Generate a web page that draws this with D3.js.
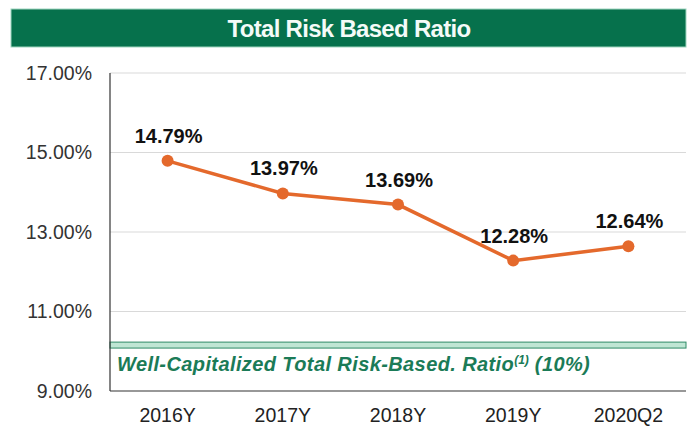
<!DOCTYPE html>
<html>
<head>
<meta charset="utf-8">
<script src="https://cdn.jsdelivr.net/npm/d3@7"></script>
<style>
body { margin: 0; background: #fff; }
svg { display: block; font-family: Arial, "Liberation Sans", sans-serif; }
</style>
</head>
<body>
<div id="chart"></div>
<script>
var categories = ['2016Y', '2017Y', '2018Y', '2019Y', '2020Q2']
var ratios = [14.79, 13.97, 13.69, 12.28, 12.64]
var yTicks = [9, 11, 13, 15, 17]
var wellCap = [10.08, 10.23]   // band drawn for the 10% threshold
var wellCapLabel = 'Well-Capitalized Total Risk-Based. Ratio'

var wd = 692, ht = 428
var svg = d3.select('#chart').append('svg').attr('width', wd).attr('height', ht)

// title bar
svg.append('rect').attr('x', 11).attr('y', 9).attr('width', 675).attr('height', 38)
	.style('fill', '#06714c').style('stroke', '#9fd6bf').style('stroke-width', 1)
svg.append('text').attr('x', 349).attr('y', 37).attr('text-anchor', 'middle')
	.style('fill', '#f4fbf8').style('font-weight', 'bold').style('font-size', '24px')
	.style('letter-spacing', '-0.7px')
	.text('Total Risk Based Ratio')

var x = d3.scaleBand().domain(categories).range([110, 686])
var y = d3.scaleLinear().domain([9, 17]).range([391, 73])

// gridlines
svg.append('g').selectAll('line').data(yTicks.slice(1)).enter().append('line')
	.attr('x1', 110).attr('x2', 686)
	.attr('y1', function(d){ return y(d) }).attr('y2', function(d){ return y(d) })
	.style('stroke', '#d9d9d9').style('stroke-width', 1)

// y axis labels
var yAxis = svg.append('g').attr('transform', 'translate(110,0)')
	.call(d3.axisLeft(y).tickValues(yTicks).tickSize(0).tickPadding(18)
		.tickFormat(function(d){ return d3.format('.2f')(d) + '%' }))
yAxis.select('.domain').remove()
yAxis.selectAll('text').style('font-size', '19.5px').style('fill', '#333')
	.style('font-family', 'Arial, "Liberation Sans", sans-serif')

// x axis labels
var xAxis = svg.append('g').attr('transform', 'translate(0,391)')
	.call(d3.axisBottom(x).tickSize(0).tickPadding(17))
xAxis.select('.domain').remove()
xAxis.selectAll('text').style('font-size', '19.5px').style('fill', '#222')
	.style('font-family', 'Arial, "Liberation Sans", sans-serif')

// well-capitalized band
svg.append('rect').attr('x', 110).attr('width', 576)
	.attr('y', y(wellCap[1])).attr('height', y(wellCap[0]) - y(wellCap[1]))
	.style('fill', '#bfe6d4').style('stroke', '#2f8a66').style('stroke-width', 1)
var wl = svg.append('text').attr('x', 117).attr('y', 371)
	.style('fill', '#1b7b57').style('font-weight', 'bold').style('font-style', 'italic')
	.style('font-size', '20px').style('letter-spacing', '0.4px')
wl.append('tspan').text(wellCapLabel)
wl.append('tspan').attr('dy', -7).style('font-size', '12px').style('letter-spacing', '0px').text('(1)')
wl.append('tspan').attr('dy', 7).text(' (10%)')

// axes lines
svg.append('line').attr('x1', 110).attr('x2', 110).attr('y1', 73).attr('y2', 391)
	.style('stroke', '#333').style('stroke-width', 1.2)
svg.append('line').attr('x1', 110).attr('x2', 686).attr('y1', 391).attr('y2', 391)
	.style('stroke', '#333').style('stroke-width', 1.2)

// line + points
var line = d3.line()
	.x(function(d, i){ return x(categories[i]) + x.bandwidth() / 2 })
	.y(function(d){ return y(d) })
svg.append('path').datum(ratios).attr('d', line)
	.style('fill', 'none').style('stroke', '#e4692c').style('stroke-width', 3.5)
svg.append('g').selectAll('circle').data(ratios).enter().append('circle')
	.attr('cx', function(d, i){ return x(categories[i]) + x.bandwidth() / 2 })
	.attr('cy', function(d){ return y(d) })
	.attr('r', 6).style('fill', '#e4692c')
svg.append('g').selectAll('text').data(ratios).enter().append('text')
	.attr('x', function(d, i){ return x(categories[i]) + x.bandwidth() / 2 + 1 })
	.attr('y', function(d){ return y(d) - 18 })
	.attr('text-anchor', 'middle')
	.style('font-weight', 'bold').style('font-size', '20px').style('fill', '#111')
	.text(function(d){ return d3.format('.2f')(d) + '%' })
</script>
</body>
</html>
